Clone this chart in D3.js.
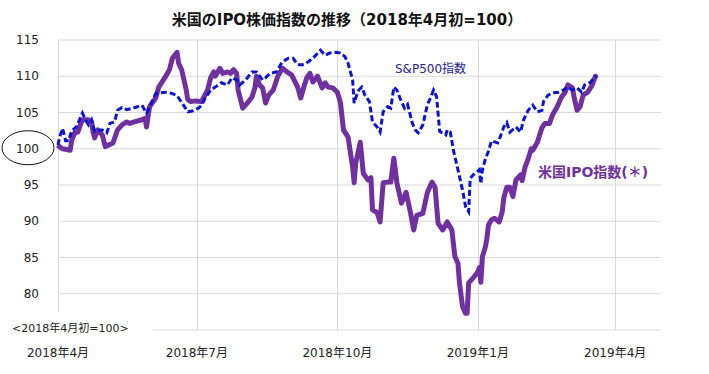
<!DOCTYPE html>
<html>
<head>
<meta charset="utf-8">
<script src="https://cdn.jsdelivr.net/npm/d3@7"></script>
<style>
  body { margin: 0; background: #fff; }
  svg { display: block; }
  text { font-family: "DejaVu Sans", "Noto Sans CJK JP", sans-serif; }
</style>
</head>
<body>
<div id="graph"></div>
<script>
// US IPO index (purple)
const ipoDates = ["2018-04-01","2018-04-02","2018-04-04","2018-04-09","2018-04-10","2018-04-12","2018-04-14","2018-04-16","2018-04-17","2018-04-21","2018-04-23","2018-04-24","2018-04-25","2018-04-27","2018-04-30","2018-05-02","2018-05-04","2018-05-07","2018-05-10","2018-05-13","2018-05-16","2018-05-18","2018-05-21","2018-05-26","2018-05-28","2018-05-29","2018-05-31","2018-06-04","2018-06-06","2018-06-10","2018-06-13","2018-06-15","2018-06-18","2018-06-19","2018-06-21","2018-06-24","2018-06-25","2018-06-27","2018-06-30","2018-07-04","2018-07-08","2018-07-10","2018-07-12","2018-07-13","2018-07-16","2018-07-18","2018-07-21","2018-07-23","2018-07-25","2018-07-27","2018-07-28","2018-07-31","2018-08-03","2018-08-06","2018-08-08","2018-08-09","2018-08-11","2018-08-13","2018-08-15","2018-08-17","2018-08-20","2018-08-23","2018-08-26","2018-08-29","2018-09-01","2018-09-05","2018-09-07","2018-09-09","2018-09-11","2018-09-13","2018-09-15","2018-09-18","2018-09-21","2018-09-23","2018-09-25","2018-09-28","2018-10-01","2018-10-03","2018-10-05","2018-10-08","2018-10-11","2018-10-12","2018-10-13","2018-10-16","2018-10-18","2018-10-21","2018-10-23","2018-10-24","2018-10-27","2018-10-29","2018-10-31","2018-11-03","2018-11-05","2018-11-07","2018-11-09","2018-11-12","2018-11-15","2018-11-18","2018-11-20","2018-11-22","2018-11-26","2018-11-29","2018-12-02","2018-12-04","2018-12-06","2018-12-09","2018-12-12","2018-12-15","2018-12-17","2018-12-19","2018-12-20","2018-12-22","2018-12-24","2018-12-25","2018-12-26","2018-12-29","2019-01-01","2019-01-02","2019-01-03","2019-01-04","2019-01-06","2019-01-07","2019-01-08","2019-01-10","2019-01-12","2019-01-15","2019-01-17","2019-01-18","2019-01-20","2019-01-22","2019-01-24","2019-01-26","2019-01-29","2019-01-30","2019-02-01","2019-02-03","2019-02-05","2019-02-06","2019-02-09","2019-02-12","2019-02-14","2019-02-17","2019-02-19","2019-02-22","2019-02-25","2019-02-27","2019-03-01","2019-03-04","2019-03-05","2019-03-07","2019-03-09","2019-03-11","2019-03-14","2019-03-17","2019-03-19","2019-03-20"];
const ipoValues = [100,100.3,100,99.8,101.2,102.2,102.3,103.5,104,104,103.7,102.3,101.5,102.6,101.9,100.3,100.5,100.8,102.6,103.3,103.7,103.5,103.7,104,104.2,103,105.8,107,108.5,109.8,110.9,112.5,113.3,111.8,110.9,108.1,106.8,106.5,106.6,106.5,108.1,109.8,110.6,110,111.1,110.4,110.6,110.4,110.9,110.4,108.1,105.6,106.3,107.1,108.4,110,108.8,108.4,106.3,107.4,108.1,110,111.1,110.6,110.2,108.5,107,108.5,109.8,110.4,109.2,110,108.4,109.1,108.5,108.4,107.8,106.4,102.6,101.6,97.5,95.3,98,100.9,96.6,95.7,96,91.6,91.2,89.9,95.3,95.4,95.4,98.7,95.3,92.5,94,91.1,88.8,90.8,91.1,94,95.4,94.7,89.7,88.8,89.9,88.8,85.1,84.2,81.5,78.2,77.3,77.3,81.5,82.2,83,83.6,81.6,85.1,86.5,87.7,89.5,90.2,90.4,89.9,91.3,93.2,94.7,94.7,93.4,95.7,96.4,95.6,97.5,98.6,100,99.8,100.9,102.9,103.5,103.5,104.7,105.8,107.2,107.7,108.8,108.4,107.2,105.3,105.8,107.4,107.8,108.8,110,109.8];

// S&P500 (blue dashed)
const spDates = ["2018-04-01","2018-04-02","2018-04-04","2018-04-06","2018-04-08","2018-04-10","2018-04-13","2018-04-17","2018-04-19","2018-04-21","2018-04-23","2018-04-25","2018-04-29","2018-04-30","2018-05-03","2018-05-05","2018-05-08","2018-05-10","2018-05-13","2018-05-16","2018-05-20","2018-05-23","2018-05-26","2018-05-29","2018-05-31","2018-06-04","2018-06-07","2018-06-11","2018-06-15","2018-06-18","2018-06-21","2018-06-25","2018-06-28","2018-07-02","2018-07-04","2018-07-06","2018-07-10","2018-07-13","2018-07-17","2018-07-21","2018-07-24","2018-07-27","2018-07-29","2018-08-02","2018-08-06","2018-08-09","2018-08-13","2018-08-15","2018-08-18","2018-08-22","2018-08-26","2018-08-30","2018-09-02","2018-09-05","2018-09-09","2018-09-12","2018-09-15","2018-09-20","2018-09-23","2018-09-26","2018-09-30","2018-10-03","2018-10-06","2018-10-08","2018-10-11","2018-10-12","2018-10-13","2018-10-15","2018-10-17","2018-10-19","2018-10-22","2018-10-24","2018-10-27","2018-10-29","2018-10-31","2018-11-03","2018-11-05","2018-11-07","2018-11-09","2018-11-11","2018-11-14","2018-11-16","2018-11-19","2018-11-21","2018-11-23","2018-11-26","2018-11-29","2018-12-01","2018-12-03","2018-12-05","2018-12-07","2018-12-11","2018-12-12","2018-12-14","2018-12-16","2018-12-19","2018-12-22","2018-12-24","2018-12-26","2018-12-27","2018-12-29","2019-01-02","2019-01-03","2019-01-04","2019-01-06","2019-01-08","2019-01-10","2019-01-14","2019-01-16","2019-01-18","2019-01-20","2019-01-22","2019-01-26","2019-01-29","2019-01-31","2019-02-03","2019-02-06","2019-02-09","2019-02-12","2019-02-13","2019-02-16","2019-02-19","2019-02-23","2019-02-26","2019-03-01","2019-03-04","2019-03-07","2019-03-10","2019-03-12","2019-03-16","2019-03-18","2019-03-20"];
const spValues = [100.5,101.6,102.8,101.1,101.1,102.5,103,104.9,104,103.3,104,102.4,102.6,102.6,102.2,103.5,103.7,105.3,105.7,105.4,105.6,105.8,106,104.9,105.8,107.6,107.7,107.8,107.6,107.3,106.4,105.1,105.2,105.6,106,106.8,108.1,108.5,109.1,108.8,109.8,109.5,108.8,109.5,110.6,110.6,109.5,109.8,110.4,110.6,112,112.5,112.5,111.6,111.6,112,112.5,113.6,112.9,113.2,113.3,113.2,112.7,111.8,109.5,106.3,107,108.1,108.5,107.4,106.5,103.7,103,102.3,105.1,105.8,105.6,108.5,108.1,107,105.6,106.1,103.6,102.6,102.2,103.3,106.1,107,108.1,107.2,102.4,101.9,102.6,102.3,99.8,97.1,94.3,92,91.3,95.9,96.4,97.1,95.2,97.1,98.6,99.7,101.1,100.8,101.8,103,103.6,102.3,103,102.3,104,105.3,106,105.1,105.3,106.5,107.4,107.7,107.8,108.1,108.5,108.1,108.4,107.8,108.8,109.2,109.8,110];

const yTicks = [80, 85, 90, 95, 100, 105, 110, 115];
const xTicks = ["2018-04-01", "2018-07-01", "2018-10-01", "2019-01-01", "2019-04-01"];
const xTickLabels = ["2018年4月", "2018年7月", "2018年10月", "2019年1月", "2019年4月"];

document.addEventListener("DOMContentLoaded", function() {
  const width = 709, height = 374;
  const parseDate = d3.timeParse("%Y-%m-%d");

  const svg = d3.select("div#graph")
    .append("svg")
    .attr("width", width)
    .attr("height", height);

  const x = d3.scaleTime()
    .domain([parseDate("2018-04-01"), parseDate("2019-05-01")])
    .range([58, 661]);
  const y = d3.scaleLinear()
    .domain([75, 115])
    .range([330, 40]);

  // horizontal grid (75..115)
  svg.append("g")
    .selectAll("line")
    .data(d3.range(75, 116, 5))
    .enter().append("line")
    .attr("x1", 58).attr("x2", 661)
    .attr("y1", d => y(d)).attr("y2", d => y(d))
    .attr("stroke", "#d9d9d9").attr("stroke-width", 1);

  // vertical grid at quarters
  svg.append("g")
    .selectAll("line")
    .data(xTicks)
    .enter().append("line")
    .attr("x1", d => Math.round(x(parseDate(d))) + 0.5)
    .attr("x2", d => Math.round(x(parseDate(d))) + 0.5)
    .attr("y1", y(115)).attr("y2", y(75))
    .attr("stroke", "#d9d9d9").attr("stroke-width", 1);

  // y labels
  svg.append("g")
    .selectAll("text")
    .data(yTicks.concat([115]).filter((d, i, a) => a.indexOf(d) === i))
    .enter().append("text")
    .attr("x", 39)
    .attr("y", d => y(d))
    .attr("dy", "0.35em")
    .attr("text-anchor", "end")
    .attr("font-size", 12)
    .attr("fill", "#222")
    .text(d => d);

  // circle around 100
  svg.append("ellipse")
    .attr("cx", 28).attr("cy", y(100) - 1)
    .attr("rx", 26).attr("ry", 17)
    .attr("fill", "none")
    .attr("stroke", "#111")
    .attr("stroke-width", 1);

  // x labels
  svg.append("g")
    .selectAll("text")
    .data(xTicks)
    .enter().append("text")
    .attr("x", d => x(parseDate(d)))
    .attr("y", 357)
    .attr("text-anchor", "middle")
    .attr("font-size", 12)
    .attr("fill", "#222")
    .text((d, i) => xTickLabels[i]);

  // base note covers the corner of the grid
  svg.append("rect")
    .attr("x", 5).attr("y", 312)
    .attr("width", 148).attr("height", 26)
    .attr("fill", "#fff");
  svg.append("text")
    .attr("x", 12).attr("y", 332)
    .attr("font-size", 11)
    .attr("fill", "#222")
    .text("<2018年4月初=100>");

  const line = d3.line()
    .x(d => x(d.date))
    .y(d => y(d.value));

  const ipo = ipoDates.map((d, i) => ({ date: parseDate(d), value: ipoValues[i] }));
  const sp = spDates.map((d, i) => ({ date: parseDate(d), value: spValues[i] }));

  svg.append("path")
    .datum(ipo)
    .attr("d", line)
    .attr("fill", "none")
    .attr("stroke", "#7030a0")
    .attr("stroke-width", 5)
    .attr("stroke-linejoin", "round");

  svg.append("path")
    .datum(sp)
    .attr("d", line)
    .attr("fill", "none")
    .attr("stroke", "#0a14d2")
    .attr("stroke-width", 3)
    .attr("stroke-dasharray", "6,3");

  // series labels
  svg.append("text")
    .attr("x", 395).attr("y", 73)
    .attr("font-size", 12)
    .attr("fill", "#1e1e96")
    .text("S&P500指数");

  svg.append("text")
    .attr("x", 538).attr("y", 177)
    .attr("font-size", 14)
    .attr("font-weight", "bold")
    .attr("fill", "#7030a0")
    .text("米国IPO指数(＊)");

  // title
  svg.append("text")
    .attr("x", 347).attr("y", 25)
    .attr("text-anchor", "middle")
    .attr("font-size", 15)
    .attr("font-weight", "bold")
    .attr("fill", "#111")
    .text("米国のIPO株価指数の推移（2018年4月初=100）");
});
</script>
</body>
</html>
